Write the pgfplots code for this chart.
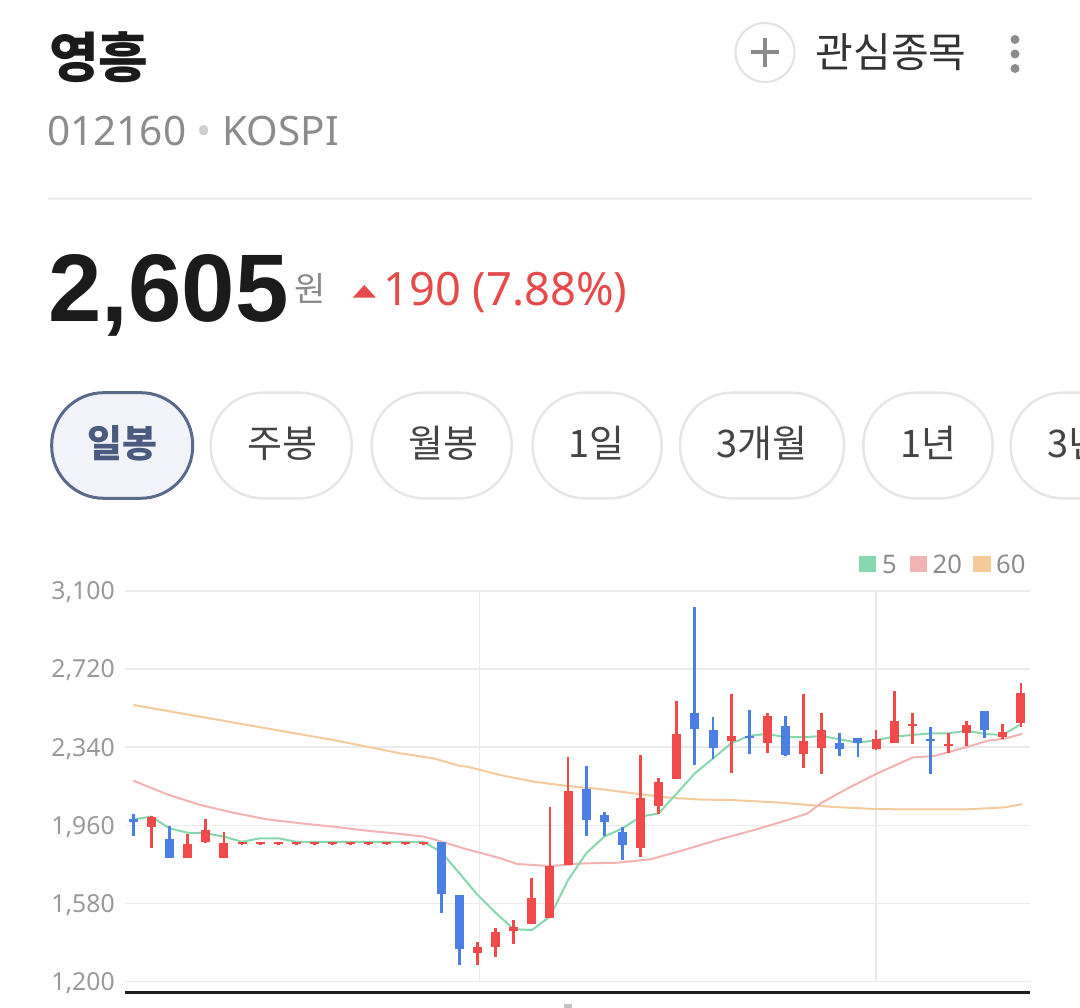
\documentclass[border=0pt]{standalone}
\usepackage{pgfplots}
\usepackage{pgfplotstable}
\pgfplotsset{compat=1.18}
\usepackage{fontspec}
\setmainfont{Noto Sans}
\newfontfamily\kr{Noto Sans CJK KR}
\newfontfamily\numfont{Liberation Sans}
\definecolor{titleblack}{HTML}{1B1B1B}
\definecolor{subgray}{HTML}{8C8C8C}
\definecolor{dotgray}{HTML}{CFCFCF}
\definecolor{sepgray}{HTML}{EEEEEE}
\definecolor{wongray}{HTML}{8A8A8A}
\definecolor{upred}{HTML}{E64B4B}
\definecolor{circgray}{HTML}{E2E2E2}
\definecolor{plusgray}{HTML}{8A8A8A}
\definecolor{darktext}{HTML}{333333}
\definecolor{dotsgray}{HTML}{8C8C8C}
\definecolor{selfill}{HTML}{F1F3F8}
\definecolor{selborder}{HTML}{5B6A8B}
\definecolor{seltext}{HTML}{4B5B7F}
\definecolor{pillborder}{HTML}{E6E6E6}
\definecolor{pilltext}{HTML}{444444}
\definecolor{leggray}{HTML}{8C8C8C}
\definecolor{tickgray}{HTML}{9A9A9A}
\definecolor{gridgray}{HTML}{EBEBEB}
\definecolor{ma5}{HTML}{86D8AE}
\definecolor{ma20}{HTML}{F3B3B3}
\definecolor{ma60}{HTML}{F5CB9C}
\definecolor{candlered}{HTML}{F04A4A}
\definecolor{candleblue}{HTML}{4B80E2}

\pgfplotstableread{
i o h l c
1 1953 2005 1851 1999
3 1800 1916 1800 1869
4 1880 1989 1875 1937
5 1800 1929 1800 1875
6 1869 1880 1862 1880
7 1869 1880 1862 1880
8 1869 1880 1862 1880
9 1869 1880 1862 1880
10 1869 1880 1862 1880
11 1869 1880 1862 1880
12 1869 1880 1862 1880
13 1869 1880 1862 1880
14 1869 1880 1862 1880
15 1869 1880 1862 1880
16 1869 1880 1862 1880
19 1341 1394 1281 1370
20 1370 1462 1319 1443
21 1448 1500 1383 1467
22 1480 1702 1480 1608
23 1508 2050 1508 1762
24 1767 2293 1767 2127
28 1851 2302 1807 2091
29 2054 2191 2013 2172
30 2185 2564 2185 2404
33 2371 2598 2216 2395
35 2361 2504 2313 2491
37 2305 2598 2240 2371
38 2334 2504 2209 2423
41 2331 2423 2326 2379
42 2358 2614 2358 2468
43 2442 2504 2355 2452
45 2345 2410 2313 2355
46 2407 2468 2347 2447
48 2388 2452 2378 2415
49 2456 2650 2439 2605
}\redcandles

\pgfplotstableread{
i o h l c
0 1990 2015 1909 1976
2 1892 1957 1800 1800
17 1877 1877 1532 1626
18 1621 1621 1281 1357
25 2135 2250 1908 1986
26 2009 2023 1908 1976
27 1929 1953 1791 1864
31 2504 3022 2253 2426
32 2423 2488 2282 2334
34 2395 2520 2305 2385
36 2444 2491 2297 2302
39 2358 2407 2298 2329
40 2386 2386 2290 2358
44 2381 2439 2209 2371
47 2517 2517 2383 2423
}\bluecandles

\pgfplotsset{
  candle/.style n args={2}{only marks, mark=none, mark size=0pt, forget plot,
    error bars/.cd, y dir=plus, y explicit, error mark=none,
    error bar style={line width=#2, draw=#1, solid, line cap=butt}},
}

\begin{document}
\begin{tikzpicture}[x=1pt,y=1pt]
\path[use as bounding box] (0,0) rectangle (1080,1008);
\clip (0,0) rectangle (1080,1008);
\fill[white] (0,0) rectangle (1080,1008);

% ---------- header ----------
\node[font=\kr\bfseries\fontsize{54}{60}\selectfont, text=titleblack, inner sep=0] at (99,1008-57.5) {영흥};
\node[anchor=base west, inner sep=0, font=\fontsize{40.5}{48}\selectfont, text=subgray] at (47,1008-145.7) {012160 {\color{dotgray}•} KOSPI};

\draw[circgray, line width=2] (765,1008-52.5) circle (29.5);
\draw[plusgray, line width=4] (750.7,1008-52.5) -- (779.3,1008-52.5);
\draw[plusgray, line width=4] (765,1008-38.3) -- (765,1008-66.7);
\node[font=\kr\fontsize{41}{48}\selectfont, text=darktext, inner sep=0] at (891.2,1008-52.5) {관심종목};
\fill[dotsgray] (1015,1008-39.5) circle (4.5);
\fill[dotsgray] (1015,1008-54) circle (4.5);
\fill[dotsgray] (1015,1008-68.5) circle (4.5);

\draw[sepgray, line width=2.5] (48,1008-198.3) -- (1032,1008-198.3);

\node[anchor=base west, inner sep=0, font=\numfont\bfseries\fontsize{96}{110}\selectfont, text=titleblack] at (48,1008-321.7) {2,605};
\node[font=\kr\fontsize{34}{40}\selectfont, text=wongray, inner sep=0] at (310,1008-288.3) {원};
\fill[upred] (352.7,1008-297.7) -- (376,1008-297.7) -- (364.3,1008-285) -- cycle;
\node[anchor=base west, inner sep=0, font=\fontsize{46}{54}\selectfont, text=upred] at (383,1008-306) {\scalebox{0.985}[1]{190 (7.88\%)}};

% ---------- period buttons ----------
\draw[fill=selfill, draw=selborder, line width=3, rounded corners=52] (51.7,1008-392.7) rectangle (192.7,1008-498.3);
\node[font=\kr\bfseries\fontsize{38}{44}\selectfont, text=seltext, inner sep=0] at (122.2,1008-443.3) {일봉};
\draw[pillborder, line width=2.5, rounded corners=52] (210.7,1008-392.7) rectangle (351.7,1008-498.3);
\node[font=\kr\fontsize{38}{44}\selectfont, text=pilltext, inner sep=0] at (282.3,1008-443.3) {주봉};
\draw[pillborder, line width=2.5, rounded corners=52] (371.7,1008-392.7) rectangle (511.7,1008-498.3);
\node[font=\kr\fontsize{38}{44}\selectfont, text=pilltext, inner sep=0] at (443,1008-443.3) {월봉};
\draw[pillborder, line width=2.5, rounded corners=52] (532.7,1008-392.7) rectangle (661.7,1008-498.3);
\node[font=\kr\fontsize{38}{44}\selectfont, text=pilltext, inner sep=0] at (596.5,1008-443.3) {1일};
\draw[pillborder, line width=2.5, rounded corners=52] (680,1008-392.7) rectangle (844,1008-498.3);
\node[font=\kr\fontsize{38}{44}\selectfont, text=pilltext, inner sep=0] at (761.8,1008-443.3) {3개월};
\draw[pillborder, line width=2.5, rounded corners=52] (863.3,1008-392.7) rectangle (992.7,1008-498.3);
\node[font=\kr\fontsize{38}{44}\selectfont, text=pilltext, inner sep=0] at (928.3,1008-443.3) {1년};
\draw[pillborder, line width=2.5, rounded corners=52] (1010.7,1008-392.7) rectangle (1140,1008-498.3);
\node[font=\kr\fontsize{38}{44}\selectfont, text=pilltext, inner sep=0] at (1075.7,1008-443.3) {3년};

% ---------- legend ----------
\fill[ma5] (859.3,1008-572.3) rectangle (876,1008-556);
\node[anchor=base west, inner sep=0, font=\fontsize{25.6}{30}\selectfont, text=leggray] at (882,1008-573.3) {5};
\fill[ma20] (910,1008-572.3) rectangle (926.7,1008-556);
\node[anchor=base west, inner sep=0, font=\fontsize{25.6}{30}\selectfont, text=leggray] at (932.5,1008-573.3) {20};
\fill[ma60] (973.3,1008-572.3) rectangle (990.7,1008-556);
\node[anchor=base west, inner sep=0, font=\fontsize{25.6}{30}\selectfont, text=leggray] at (996,1008-573.3) {60};

% ---------- chart ----------
\begin{axis}[
  at={(125pt,15pt)}, anchor=south west,
  scale only axis, width=905pt, height=408pt,
  xmin=-0.46, xmax=49.5, ymin=1145, ymax=3128,
  axis line style={draw=none},
  ytick={1200,1580,1960,2340,2720,3100},
  xtick=\empty,
  ymajorgrids,
  major grid style={color=gridgray, line width=1.5pt},
  major tick length=0pt,
  /pgf/number format/1000 sep={,},
  /pgf/number format/assume math mode=true,
  yticklabel style={font=\fontsize{24.8}{28}\selectfont, text=tickgray, anchor=east, inner sep=0pt, xshift=-10pt, text depth=0pt},
]
\draw[gridgray, line width=1.5pt] (axis cs:19.1,1200) -- (axis cs:19.1,3100);
\draw[gridgray, line width=1.5pt] (axis cs:41,1200) -- (axis cs:41,3100);

% 60-day moving average
\addplot[ma60, line width=2pt, mark=none] coordinates {
(0,2545) (3.69,2488) (7.37,2431) (11.06,2374) (14.74,2310) (16.58,2285) (18.06,2248) (18.43,2245) (20.27,2204) (22.11,2172) (23.96,2151) (25.80,2136) (27.64,2115) (29.49,2095) (31.33,2085) (32.99,2083) (35.75,2070) (38.51,2050) (40.91,2039) (43.12,2037) (45.88,2037) (48.09,2047) (49.07,2063)
};
% 20-day moving average
\addplot[ma20, line width=2pt, mark=none] coordinates {
(0,2177) (1.85,2111) (3.69,2059) (5.53,2021) (7.37,1989) (9.21,1970) (11.06,1953) (12.90,1934) (14.74,1918) (16.03,1905) (16.58,1892) (18.43,1843) (20.27,1800) (21.19,1772) (23.03,1762) (24.88,1775) (26.72,1778) (28.56,1795) (30.40,1840) (32.25,1889) (34.27,1937) (36.12,1986) (37.23,2018) (37.95,2067) (39.44,2140) (41.09,2213) (43.03,2290) (44.22,2297) (46.07,2342) (47.17,2371) (48.09,2381) (49.07,2404)
};
% 5-day moving average
\addplot[ma5, line width=2pt, mark=none] coordinates {
(0,1989) (1,2002) (2,1945) (3,1924) (4,1921) (5,1905) (6,1880) (7,1897) (8,1897) (9,1880) (10,1880) (11,1880) (12,1880) (13,1880) (14,1880) (15,1880) (16,1880) (17,1830) (18,1727) (19,1622) (20,1535) (21,1455) (22,1451) (23,1516) (24,1694) (25,1824) (26,1905) (27,1945) (28,2002) (29,2018) (30,2115) (31,2213) (32,2285) (33,2358) (34,2395) (35,2404) (36,2388) (37,2388) (38,2394) (39,2378) (40,2361) (41,2374) (42,2391) (43,2399) (44,2407) (45,2407) (46,2420) (47,2404) (48,2399) (49,2452)
};

% candle wicks
\addplot[candle={candlered}{2.8pt}]
  table[x=i, y=l, y error plus expr=\thisrow{h}-\thisrow{l}] {\redcandles};
\addplot[candle={candleblue}{2.8pt}]
  table[x=i, y=l, y error plus expr=\thisrow{h}-\thisrow{l}] {\bluecandles};
% candle bodies
\addplot[candle={candlered}{9pt}]
  table[x=i, y=o, y error plus expr=\thisrow{c}-\thisrow{o}] {\redcandles};
\addplot[candle={candleblue}{9pt}]
  table[x=i, y=c, y error plus expr=\thisrow{o}-\thisrow{c}] {\bluecandles};
\end{axis}

\draw[black!88, line width=3] (125,1008-993) -- (1030,1008-993);
\fill[tickgray!60] (564,0) rectangle (572,4);
\end{tikzpicture}
\end{document}
